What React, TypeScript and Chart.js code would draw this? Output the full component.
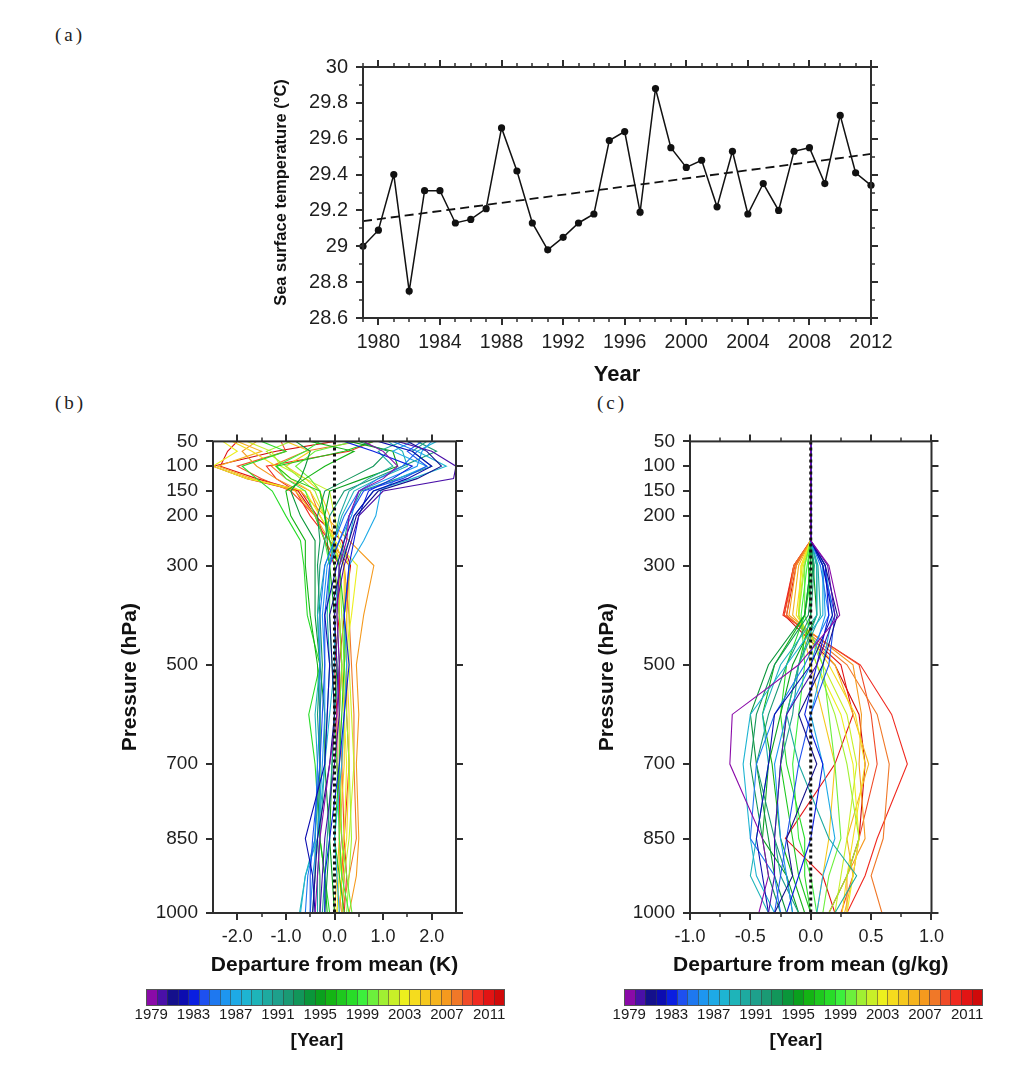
import React, { useEffect, useRef } from 'react';
import { Chart, registerables } from 'chart.js';

Chart.register(...registerables);

// ---------------- DATA ----------------
const YEARS = [
  1979, 1980, 1981, 1982, 1983, 1984, 1985, 1986, 1987, 1988, 1989, 1990,
  1991, 1992, 1993, 1994, 1995, 1996, 1997, 1998, 1999, 2000, 2001, 2002,
  2003, 2004, 2005, 2006, 2007, 2008, 2009, 2010, 2011, 2012,
];

// (a) sea surface temperature (°C)
const SST = [
  29.0, 29.09, 29.4, 28.75, 29.31, 29.31, 29.13, 29.15, 29.21, 29.66, 29.42, 29.13,
  28.98, 29.05, 29.13, 29.18, 29.59, 29.64, 29.19, 29.88, 29.55, 29.44, 29.48, 29.22,
  29.53, 29.18, 29.35, 29.2, 29.53, 29.55, 29.35, 29.73, 29.41, 29.34,
];
const TREND_YEARS = [1979, 2012];
const TREND_VALUES = [29.14, 29.515];

const SST_TICKS = [28.6, 28.8, 29, 29.2, 29.4, 29.6, 29.8, 30];
const SST_MINOR = [28.7, 28.9, 29.1, 29.3, 29.5, 29.7, 29.9];
const YEAR_TICKS = [1980, 1984, 1988, 1992, 1996, 2000, 2004, 2008, 2012];

// (b)/(c) pressure levels (hPa)
const PRESSURE_TICKS = [50, 100, 150, 200, 300, 500, 700, 850, 1000];
const T_LEVELS = [50, 70, 100, 125, 150, 200, 250, 300, 400, 500, 600, 700, 850, 925, 1000];
const Q_LEVELS = [50, 250, 300, 400, 500, 600, 700, 850, 925, 1000];

const T_TICKS = [-2, -1, 0, 1, 2];
const T_MINOR = [-1.5, -0.5, 0.5, 1.5];
const Q_TICKS = [-1, -0.5, 0, 0.5, 1];
const Q_MINOR = [-0.75, -0.25, 0.25, 0.75];

// (b) temperature departure from mean (K), one row per year, columns = T_LEVELS
const T_DEPARTURE = [
  [0.6, 1.0, 1.3, 1.0, 0.5, 0.3, 0.25, 0.1, 0.05, 0.1, 0.05, -0.1, -0.3, -0.35, -0.4],
  [1.3, 2.0, 2.5, 2.45, 1.0, 0.5, 0.35, 0.2, 0.0, 0.05, 0.1, 0.0, -0.2, -0.25, -0.3],
  [1.5, 1.9, 2.2, 1.7, 0.9, 0.45, 0.3, 0.15, -0.1, -0.05, 0.0, -0.1, -0.35, -0.4, -0.45],
  [0.9, 1.6, 2.0, 1.5, 0.8, 0.4, 0.2, 0.05, -0.2, -0.1, -0.15, -0.2, -0.6, -0.45, -0.4],
  [0.2, 0.8, 1.6, 1.2, 0.7, 0.5, 0.4, 0.3, 0.2, 0.3, 0.2, 0.1, -0.1, -0.2, -0.2],
  [1.8, 1.5, 1.9, 1.4, 0.6, 0.3, 0.1, -0.1, -0.2, -0.2, -0.25, -0.3, -0.45, -0.5, -0.5],
  [1.2, 1.7, 1.4, 0.9, 0.5, 0.2, 0.0, -0.2, -0.3, -0.3, -0.3, -0.35, -0.4, -0.55, -0.6],
  [2.0, 1.8, 1.7, 1.1, 0.5, 0.35, 0.1, -0.15, -0.25, -0.2, -0.2, -0.25, -0.35, -0.45, -0.5],
  [1.6, 1.2, 1.9, 1.3, 0.95, 0.85, 0.6, 0.3, 0.2, 0.25, 0.2, 0.15, 0.0, 0.05, 0.1],
  [2.1, 1.7, 2.3, 1.6, 0.8, 0.4, 0.3, 0.1, 0.0, 0.0, -0.1, -0.2, -0.35, -0.6, -0.7],
  [1.1, 1.4, 1.5, 0.9, 0.4, 0.15, 0.0, -0.2, -0.35, -0.3, -0.4, -0.35, -0.4, -0.6, -0.72],
  [1.4, 0.9, 1.2, 0.7, 0.3, 0.1, 0.0, -0.1, -0.15, -0.1, -0.15, -0.2, -0.3, -0.35, -0.35],
  [1.9, 1.6, 2.0, 1.3, 0.55, 0.3, 0.2, 0.1, 0.05, 0.1, 0.0, -0.05, -0.15, -0.2, -0.25],
  [1.7, 2.1, 1.4, 0.8, 0.2, -0.1, -0.2, -0.3, -0.35, -0.3, -0.35, -0.3, -0.4, -0.4, -0.45],
  [0.5, 1.1, 0.8, 0.3, -0.2, -0.35, -0.3, -0.35, -0.3, -0.25, -0.3, -0.3, -0.35, -0.3, -0.3],
  [-0.8, -0.5, -0.6, -0.7, -0.9, -0.7, -0.4, -0.4, -0.4, -0.3, -0.2, -0.2, -0.1, -0.15, -0.2],
  [0.3, 1.2, 1.3, 0.6, -0.1, -0.2, -0.15, -0.1, 0.0, 0.05, 0.0, -0.05, -0.1, -0.05, 0.0],
  [-0.5, 0.4, -0.2, -0.6, -1.0, -0.9, -0.6, -0.6, -0.5, -0.35, -0.3, -0.3, -0.3, -0.2, -0.15],
  [0.8, 0.2, -1.2, -0.9, -0.3, -0.2, -0.1, 0.1, 0.2, 0.2, 0.15, 0.1, 0.0, 0.1, 0.2],
  [-1.5, -1.0, -1.9, -1.6, -1.28, -1.0, -0.7, -0.63, -0.56, -0.3, -0.53, -0.4, -0.3, -0.2, -0.1],
  [-0.3, -0.6, -1.2, -1.0, -0.6, -0.4, -0.2, -0.1, -0.1, -0.05, 0.0, 0.05, 0.1, 0.15, 0.3],
  [0.4, -0.4, -0.8, -0.5, -0.3, -0.2, -0.1, 0.0, 0.1, 0.15, 0.1, 0.1, 0.15, 0.25, 0.36],
  [-0.9, -1.4, -1.0, -0.7, -0.4, -0.2, -0.05, 0.1, 0.15, 0.2, 0.25, 0.3, 0.35, 0.3, 0.25],
  [-1.8, -1.3, -1.1, -0.6, -0.1, 0.0, 0.1, 0.3, 0.3, 0.3, 0.35, 0.4, 0.3, 0.2, 0.15],
  [-2.3, -2.0, -2.5, -1.8, -0.6, -0.3, 0.0, 0.47, 0.35, 0.2, 0.2, 0.25, 0.2, 0.1, 0.05],
  [-2.1, -1.7, -1.2, -0.9, -0.5, -0.2, 0.0, 0.2, 0.25, 0.25, 0.3, 0.3, 0.25, 0.15, 0.1],
  [-1.0, -0.5, -1.0, -0.6, -0.3, -0.1, 0.0, 0.1, 0.1, 0.15, 0.2, 0.2, 0.1, 0.1, 0.05],
  [-2.0, -1.5, -2.4, -1.7, -0.8, -0.4, -0.1, 0.2, 0.2, 0.25, 0.2, 0.15, 0.1, 0.05, 0.0],
  [-1.6, -1.9, -1.6, -1.2, -0.7, -0.2, 0.3, 0.81, 0.6, 0.45, 0.5, 0.45, 0.5, 0.45, 0.3],
  [0.5, -0.6, -1.3, -1.0, -0.5, -0.3, 0.0, 0.2, 0.3, 0.35, 0.4, 0.4, 0.45, 0.3, 0.15],
  [-1.1, -1.0, -2.0, -1.5, -0.9, -0.4, -0.2, 0.1, 0.1, 0.15, 0.1, 0.15, 0.2, 0.15, 0.1],
  [0.8, 0.3, -1.4, -1.2, -0.8, -0.5, -0.1, 0.3, 0.25, 0.25, 0.25, 0.3, 0.2, 0.25, 0.2],
  [-2.0, -2.2, -2.35, -1.6, -0.7, -0.36, -0.2, 0.0, 0.1, 0.0, 0.05, 0.05, 0.15, 0.2, 0.15],
  [0.0, -1.2, -2.5, -1.8, -0.75, -0.4, 0.15, 0.33, 0.2, 0.1, 0.1, 0.1, 0.1, 0.15, 0.1],
];

// (c) specific humidity departure from mean (g/kg), one row per year, columns = Q_LEVELS
const Q_DEPARTURE = [
  [0, 0, 0.15, 0.24, -0.1, -0.65, -0.67, -0.4, -0.35, -0.43],
  [0, 0, 0.14, 0.2, 0.05, -0.2, -0.25, -0.3, -0.3, -0.35],
  [0, 0, 0.12, 0.22, 0.1, -0.1, 0.05, -0.2, -0.15, -0.3],
  [0, 0, 0.1, 0.18, 0.0, -0.3, -0.35, -0.45, -0.4, -0.35],
  [0, 0, 0.12, 0.15, 0.05, -0.05, 0.1, 0.0, -0.1, -0.2],
  [0, 0, 0.1, 0.2, 0.15, 0.0, -0.1, -0.2, -0.25, -0.3],
  [0, 0, 0.08, 0.15, -0.05, -0.3, -0.45, -0.5, -0.3, -0.25],
  [0, 0, 0.1, 0.12, 0.0, -0.2, -0.3, -0.25, -0.2, -0.15],
  [0, 0, 0.12, 0.18, 0.1, 0.0, 0.1, 0.2, 0.1, 0.05],
  [0, 0, 0.1, 0.1, -0.2, -0.5, -0.56, -0.5, -0.45, -0.3],
  [0, 0, 0.05, 0.05, -0.25, -0.4, -0.35, -0.45, -0.5, -0.35],
  [0, 0, 0.06, 0.08, -0.1, -0.2, -0.1, 0.15, 0.38, 0.2],
  [0, 0, 0.05, 0.05, -0.1, -0.15, -0.25, -0.3, -0.25, -0.1],
  [0, 0, 0.03, 0.0, -0.2, -0.35, -0.45, -0.3, -0.2, -0.15],
  [0, 0, 0.02, -0.02, -0.3, -0.45, -0.5, -0.4, -0.35, -0.25],
  [0, 0, 0.0, -0.05, -0.35, -0.5, -0.45, -0.35, -0.3, -0.2],
  [0, 0, 0.02, 0.05, -0.15, -0.25, -0.35, -0.4, -0.2, -0.1],
  [0, 0, 0.0, -0.05, -0.3, -0.4, -0.32, -0.25, -0.15, -0.05],
  [0, 0, -0.02, 0.0, -0.1, -0.2, -0.25, -0.15, -0.1, 0.0],
  [0, 0, 0.02, -0.05, -0.2, -0.25, -0.2, -0.05, -0.05, 0.0],
  [0, 0, -0.03, -0.08, -0.05, -0.1, -0.15, -0.1, 0.0, 0.05],
  [0, 0, -0.05, -0.05, 0.1, 0.15, 0.2, 0.25, 0.15, 0.1],
  [0, 0, -0.05, -0.1, 0.05, 0.2, 0.3, 0.4, 0.3, 0.15],
  [0, 0, -0.06, -0.1, 0.1, 0.3, 0.38, 0.3, 0.25, 0.2],
  [0, 0, -0.08, -0.1, 0.05, 0.25, 0.35, 0.4, 0.35, 0.3],
  [0, 0, -0.07, -0.12, 0.15, 0.37, 0.45, 0.35, 0.3, 0.26],
  [0, 0, -0.08, -0.1, 0.0, 0.1, 0.2, 0.15, 0.1, 0.05],
  [0, 0, -0.1, -0.15, 0.2, 0.35, 0.48, 0.3, 0.35, 0.28],
  [0, 0, -0.12, -0.18, 0.35, 0.42, 0.4, 0.45, 0.3, 0.3],
  [0, 0, -0.14, -0.2, 0.3, 0.55, 0.65, 0.6, 0.5, 0.59],
  [0, 0, -0.13, -0.22, 0.4, 0.5, 0.55, 0.4, 0.35, 0.25],
  [0, 0, -0.14, -0.23, 0.41, 0.67, 0.8, 0.55, 0.45, 0.3],
  [0, 0, -0.12, -0.2, 0.25, 0.35, 0.2, -0.21, 0.1, 0.2],
  [0, 0, -0.14, -0.22, 0.2, 0.4, 0.45, 0.4, 0.3, 0.15],
];

const YEAR_COLORS = [
  '#8a0aa8', '#4a10a8', '#14108c', '#0c0cb0', '#0a1ee0', '#1e50f0', '#1e78f0', '#1e96f0',
  '#1eaae6', '#1eb4d2', '#1eb4b9', '#1eaaa0', '#1ea08c', '#1a9a74', '#12965a', '#0a963a',
  '#0aa01e', '#14b414', '#1ec81e', '#28dc28', '#3cf03c', '#6cf03c', '#a0f032', '#c8f028',
  '#ecf01e', '#f5dc1e', '#f5c81e', '#f5b41e', '#f59a1e', '#f07828', '#f04b28', '#f02a20',
  '#e21414', '#d00a0a',
];
const COLORBAR_LABELS = [1979, 1983, 1987, 1991, 1995, 1999, 2003, 2007, 2011];

// ---------------- STYLE ----------------
const SANS = "'Liberation Sans', Arial, Helvetica, sans-serif";
const TEXT = '#1e1e1e';
const FRAME = '#2e2e2e';

type FrameCfg = {
  xMajor: number[];
  xMinor: number[];
  yMajor: number[];
  yMinor: number[];
  xTitle?: string;
  xTitleOffset?: number;
  xTitleFont?: string;
};

const makeFramePlugin = (cfg: FrameCfg) => ({
  id: 'frameTicks',
  afterDraw(chart: any) {
    const { ctx, chartArea } = chart;
    const { left, right, top, bottom } = chartArea;
    const xs = chart.scales.x;
    const ys = chart.scales.y;
    ctx.save();
    ctx.strokeStyle = FRAME;
    const seg = (x1: number, y1: number, x2: number, y2: number) => {
      ctx.beginPath();
      ctx.moveTo(x1, y1);
      ctx.lineTo(x2, y2);
      ctx.stroke();
    };
    const drawX = (vals: number[], len: number, w: number) => {
      ctx.lineWidth = w;
      vals.forEach((v) => {
        const p = Math.round(xs.getPixelForValue(v));
        seg(p, bottom, p, bottom + len);
        seg(p, top, p, top - len);
      });
    };
    const drawY = (vals: number[], len: number, w: number) => {
      ctx.lineWidth = w;
      vals.forEach((v) => {
        const p = Math.round(ys.getPixelForValue(v));
        seg(left, p, left - len, p);
        seg(right, p, right + len, p);
      });
    };
    drawX(cfg.xMinor, 4, 1.5);
    drawX(cfg.xMajor, 7, 2);
    drawY(cfg.yMinor, 4, 1.5);
    drawY(cfg.yMajor, 7, 2);
    ctx.lineWidth = 2;
    ctx.strokeRect(left, top, right - left, bottom - top);
    if (cfg.xTitle) {
      ctx.fillStyle = '#111';
      ctx.font = cfg.xTitleFont;
      ctx.textAlign = 'center';
      ctx.textBaseline = 'middle';
      ctx.fillText(cfg.xTitle, (left + right) / 2, bottom + (cfg.xTitleOffset || 0));
    }
    ctx.restore();
  },
});

const fixedTicks = (vals: number[]) => (s: any) => {
  s.ticks = vals.map((v) => ({ value: v }));
};

// ---------------- CONFIGS ----------------
function sstConfig(): any {
  return {
    type: 'line',
    data: {
      datasets: [
        {
          data: YEARS.map((y, i) => ({ x: y, y: SST[i] })),
          borderColor: '#111',
          borderWidth: 1.5,
          pointRadius: 3.6,
          pointBackgroundColor: '#111',
          pointBorderWidth: 0,
          tension: 0,
          clip: false,
        },
        {
          data: TREND_YEARS.map((y, i) => ({ x: y, y: TREND_VALUES[i] })),
          borderColor: '#111',
          borderWidth: 1.8,
          borderDash: [9, 5],
          pointRadius: 0,
          tension: 0,
        },
      ],
    },
    options: {
      animation: false,
      responsive: false,
      maintainAspectRatio: false,
      layout: { padding: { left: 0, top: 25, right: 49, bottom: 12 } },
      plugins: { legend: { display: false }, tooltip: { enabled: false } },
      scales: {
        x: {
          type: 'linear',
          min: 1979,
          max: 2012,
          afterBuildTicks: fixedTicks(YEAR_TICKS),
          afterFit: (s: any) => {
            s.height = 70;
          },
          grid: { display: false, drawTicks: false },
          border: { display: false },
          ticks: {
            padding: 13,
            color: TEXT,
            font: { family: SANS, size: 19.5 },
            callback: (v: any) => String(v),
            maxRotation: 0,
            autoSkip: false,
          },
          title: { display: false },
        },
        y: {
          type: 'linear',
          min: 28.6,
          max: 30,
          afterBuildTicks: fixedTicks(SST_TICKS),
          afterFit: (s: any) => {
            s.width = 103;
          },
          grid: { display: false, drawTicks: false },
          border: { display: false },
          ticks: {
            padding: 15,
            color: TEXT,
            font: { family: SANS, size: 20 },
            callback: (v: any) => String(Number(Number(v).toFixed(1))),
          },
          title: {
            display: true,
            text: 'Sea surface temperature (°C)',
            color: '#111',
            font: { family: SANS, size: 16.5, weight: 'bold' },
            padding: { top: 12, bottom: 0 },
          },
        },
      },
    },
    plugins: [
      makeFramePlugin({
        xMajor: YEAR_TICKS,
        xMinor: YEARS,
        yMajor: SST_TICKS,
        yMinor: SST_MINOR,
        xTitle: 'Year',
        xTitleOffset: 57,
        xTitleFont: `bold 22px ${SANS}`,
      }),
    ],
  };
}

function profileConfig(
  levels: number[],
  values: number[][],
  xmin: number,
  xmax: number,
  xTicks: number[],
  xMinor: number[],
  xTitle: string
): any {
  const yearSets = YEARS.map((yr, i) => ({
    label: String(yr),
    data: levels.map((p, j) => ({ x: values[i][j], y: p })),
    borderColor: YEAR_COLORS[i],
    borderWidth: 1.1,
    pointRadius: 0,
    tension: 0,
    order: 1,
  }));
  const zero = {
    label: 'zero',
    data: [
      { x: 0, y: 50 },
      { x: 0, y: 1000 },
    ],
    borderColor: '#111',
    borderWidth: 3,
    borderDash: [3, 3],
    pointRadius: 0,
    order: 0,
  };
  return {
    type: 'line',
    data: { datasets: [zero, ...yearSets] },
    options: {
      animation: false,
      responsive: false,
      maintainAspectRatio: false,
      layout: { padding: { left: 0, top: 15, right: 24, bottom: 17 } },
      plugins: { legend: { display: false }, tooltip: { enabled: false } },
      scales: {
        x: {
          type: 'linear',
          min: xmin,
          max: xmax,
          afterBuildTicks: fixedTicks(xTicks),
          afterFit: (s: any) => {
            s.height = 65;
          },
          grid: { display: false, drawTicks: false },
          border: { display: false },
          ticks: {
            padding: 13,
            color: TEXT,
            font: { family: SANS, size: 18 },
            callback: (v: any) => Number(v).toFixed(1),
            maxRotation: 0,
            autoSkip: false,
          },
          title: { display: false },
        },
        y: {
          type: 'linear',
          reverse: true,
          min: 50,
          max: 1000,
          afterBuildTicks: fixedTicks(PRESSURE_TICKS),
          afterFit: (s: any) => {
            s.width = 113;
          },
          grid: { display: false, drawTicks: false },
          border: { display: false },
          ticks: {
            padding: 15,
            color: TEXT,
            font: { family: SANS, size: 19 },
            callback: (v: any) => String(v),
          },
          title: {
            display: true,
            text: 'Pressure (hPa)',
            color: '#111',
            font: { family: SANS, size: 21, weight: 'bold' },
            padding: { top: 18, bottom: 0 },
          },
        },
      },
    },
    plugins: [
      makeFramePlugin({
        xMajor: xTicks,
        xMinor: xMinor,
        yMajor: PRESSURE_TICKS,
        yMinor: [],
        xTitle,
        xTitleOffset: 52,
        xTitleFont: `bold 21px ${SANS}`,
      }),
    ],
  };
}

// ---------------- COMPONENTS ----------------
function ChartCanvas(props: { build: () => any; left: number; top: number; width: number; height: number }) {
  const ref = useRef<HTMLCanvasElement | null>(null);
  useEffect(() => {
    if (!ref.current) return;
    const chart = new Chart(ref.current, props.build());
    return () => chart.destroy();
  }, []);
  return (
    <canvas
      ref={ref}
      width={props.width}
      height={props.height}
      style={{ position: 'absolute', left: props.left, top: props.top, width: props.width, height: props.height }}
    />
  );
}

function ColorBar(props: { left: number; top: number; width: number; centerX: number }) {
  const { left, top, width, centerX } = props;
  const cell = width / YEAR_COLORS.length;
  return (
    <>
      <div
        style={{
          position: 'absolute',
          left,
          top,
          width,
          height: 17,
          display: 'flex',
          border: '1px solid #555',
          boxSizing: 'border-box',
        }}
      >
        {YEAR_COLORS.map((c, i) => (
          <div
            key={i}
            style={{ flex: 1, background: c, borderLeft: i ? '1px solid rgba(60,60,60,0.55)' : 'none' }}
          />
        ))}
      </div>
      {COLORBAR_LABELS.map((yr) => (
        <div
          key={yr}
          style={{
            position: 'absolute',
            left: left + (yr - YEARS[0] + 0.5) * cell,
            top: top + 16,
            transform: 'translateX(-50%)',
            fontFamily: SANS,
            fontSize: 15,
            lineHeight: '17px',
            color: '#1a1a1a',
            whiteSpace: 'nowrap',
          }}
        >
          {yr}
        </div>
      ))}
      <div
        style={{
          position: 'absolute',
          left: centerX,
          top: top + 40,
          transform: 'translateX(-50%)',
          fontFamily: SANS,
          fontSize: 19,
          fontWeight: 'bold',
          lineHeight: '22px',
          color: '#111',
          whiteSpace: 'nowrap',
        }}
      >
        [Year]
      </div>
    </>
  );
}

const panelLabel = (text: string, left: number, top: number) => (
  <div
    style={{
      position: 'absolute',
      left,
      top,
      fontFamily: "'Liberation Serif', 'DejaVu Serif', serif",
      fontSize: 19,
      lineHeight: '22px',
      letterSpacing: 3,
      color: '#222',
    }}
  >
    {text}
  </div>
);

export default function App() {
  return (
    <div
      style={{
        position: 'absolute',
        left: 0,
        top: 0,
        width: 1036,
        height: 1067,
        background: '#fff',
        overflow: 'hidden',
      }}
    >
      {panelLabel('(a)', 55, 24)}
      {panelLabel('(b)', 55, 392)}
      {panelLabel('(c)', 597, 392)}
      <ChartCanvas build={sstConfig} left={260} top={40} width={660} height={360} />
      <ChartCanvas
        build={() =>
          profileConfig(T_LEVELS, T_DEPARTURE, -2.5, 2.5, T_TICKS, T_MINOR, 'Departure from mean (K)')
        }
        left={100}
        top={415}
        width={380}
        height={580}
      />
      <ChartCanvas
        build={() =>
          profileConfig(Q_LEVELS, Q_DEPARTURE, -1, 1, Q_TICKS, Q_MINOR, 'Departure from mean (g/kg)')
        }
        left={577}
        top={415}
        width={380}
        height={580}
      />
      <ColorBar left={146} top={989} width={359} centerX={317} />
      <ColorBar left={624} top={989} width={359} centerX={796} />
    </div>
  );
}
